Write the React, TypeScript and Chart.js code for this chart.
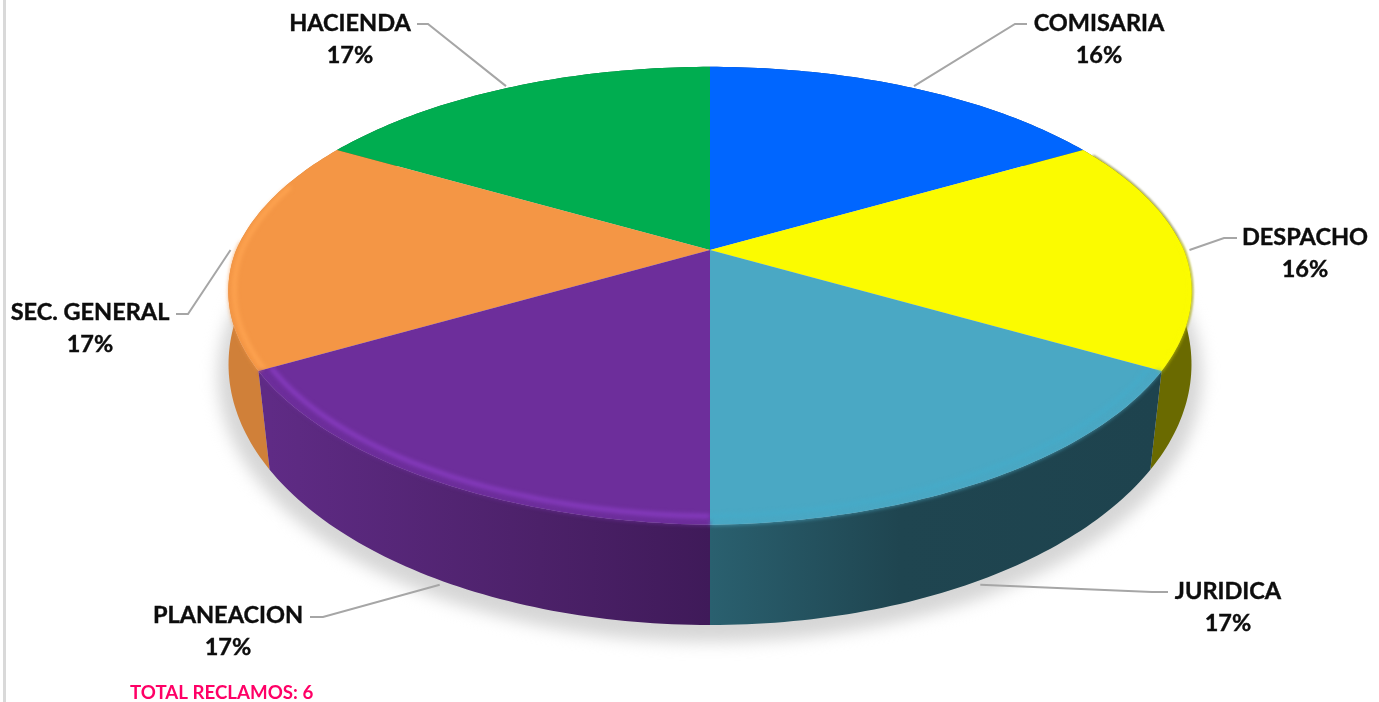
import React, { useEffect, useRef } from "react";
import { Chart, registerables } from "chart.js";

Chart.register(...registerables);

// Complaints per office; the total printed under the chart is their sum.
const offices = ["COMISARIA", "DESPACHO", "JURIDICA", "PLANEACION", "SEC. GENERAL", "HACIENDA"];
const complaints = [1, 1, 1, 1, 1, 1];
const shareLabels = ["16%", "16%", "17%", "17%", "17%", "17%"];
const faceColors = ["#0066ff", "#fbfb00", "#4aa8c4", "#6d2e9b", "#f49645", "#00ad50"];
const totalLabel = "TOTAL RECLAMOS: 6";

const WIDTH = 1379;
const HEIGHT = 702;
const FONT = "Lato, sans-serif";

type Plane = { cx: number; y0: number; rx: number; ry: number; p: number; bevel: number };
// Perspective projection of the disc's upper and lower faces.
const TOP: Plane = { cx: 710, y0: 250, rx: 473.8, ry: 219.8, p: 0.2, bevel: 0.02 };
const BOTTOM: Plane = { cx: 710, y0: 333, rx: 478, ry: 257, p: 0.12, bevel: 0 };

function project(pl: Plane, theta: number, r = 1): [number, number] {
  // The rounded front shoulder pulls the visible edge in a little towards the sides.
  const front = Math.max(0, -Math.cos(theta)) * Math.abs(Math.sin(theta));
  const rr = r * (1 - pl.bevel * front);
  const x = rr * Math.sin(theta);
  const y = rr * Math.cos(theta);
  const w = 1 + pl.p * y;
  return [pl.cx + (pl.rx * x) / w, pl.y0 - (pl.ry * y) / w];
}

function arcPoints(pl: Plane, a: number, b: number, r = 1): [number, number][] {
  const n = Math.max(2, Math.ceil(Math.abs(b - a) / (Math.PI / 180)));
  const pts: [number, number][] = [];
  for (let i = 0; i <= n; i++) pts.push(project(pl, a + ((b - a) * i) / n, r));
  return pts;
}

function trace(ctx: CanvasRenderingContext2D, pts: [number, number][], close: boolean) {
  ctx.beginPath();
  pts.forEach(([x, y], i) => (i ? ctx.lineTo(x, y) : ctx.moveTo(x, y)));
  if (close) ctx.closePath();
}

const rad = (deg: number) => (deg * Math.PI) / 180;

// Side-wall shading per slice, as [x, colour] stops.
const wallStops: [number, string][][] = [
  [[0, "#00409f"]],
  [[0, "#6a6a00"]],
  [[710, "#2a606f"], [900, "#1f4550"], [1160, "#1e434e"]],
  [[270, "#5f2b85"], [540, "#4c2169"], [710, "#3f1a59"]],
  [[0, "#d08039"]],
  [[0, "#006c32"]],
];
// Blurred front edge over the wall: slice index and angular limits in degrees.
const softEdges: [number, number, number][] = [
  [1, 88, 120],
  [2, 120, 180],
  [3, 180, 240],
  [4, 240, 272],
];
// Soft rim highlight on the front slices: colour, angular limits in degrees, radius.
const rimLight: ([string, number, number, number] | null)[] = [
  null,
  null,
  ["#45abc9", 120, 180, 0.975],
  ["#8a3dc4", 180, 240, 0.975],
  ["#ffa552", 240, 288, 0.988],
  null,
];
const drawOrder = [0, 5, 1, 4, 2, 3];

// Callout placement: label centre, first line y, elbow and the line's end by the text.
const callouts: { x: number; y: number; knee: [number, number]; end: [number, number]; lower: boolean }[] = [
  { x: 1099, y: 23, knee: [1015, 24], end: [1027, 24], lower: false },
  { x: 1305, y: 237, knee: [1224, 238], end: [1237, 238], lower: false },
  { x: 1228, y: 591, knee: [1152, 592], end: [1168, 592], lower: true },
  { x: 228, y: 615, knee: [323, 617], end: [310, 617], lower: true },
  { x: 90, y: 312, knee: [188, 314], end: [176, 314], lower: false },
  { x: 350, y: 23, knee: [428, 24], end: [417, 24], lower: false },
];

const perspectivePie = {
  id: "perspectivePie",
  beforeDraw(chart: any) {
    const ctx: CanvasRenderingContext2D = chart.ctx;
    ctx.save();
    ctx.fillStyle = "#ffffff";
    ctx.fillRect(0, 0, WIDTH, HEIGHT);
    ctx.fillStyle = "#d9d9d9";
    ctx.fillRect(3, 0, 3, HEIGHT);
    ctx.restore();
  },
  beforeDatasetsDraw(chart: any) {
    const ctx: CanvasRenderingContext2D = chart.ctx;
    const arcs = chart.getDatasetMeta(0).data.map((el: any) => {
      const { startAngle, endAngle } = el.getProps(["startAngle", "endAngle"], true);
      return { a: startAngle + Math.PI / 2, b: endAngle + Math.PI / 2 };
    });
    const colors: string[] = chart.data.datasets[0].backgroundColor;

    // Ground shadow
    ctx.save();
    ctx.filter = "blur(8px)";
    ctx.fillStyle = "#d6d6d6";
    ctx.beginPath();
    ctx.ellipse(710, 376, 492, 266, 0, 0, Math.PI * 2);
    ctx.fill();
    ctx.restore();

    // Side walls, far slices first
    drawOrder.forEach((i) => {
      const { a, b } = arcs[i];
      const stops = wallStops[i];
      const xs = stops.map((s) => s[0]);
      const lo = Math.min(...xs);
      const hi = Math.max(...xs);
      ctx.save();
      if (stops.length > 1) {
        const g = ctx.createLinearGradient(lo, 0, hi, 0);
        stops.forEach(([x, c]) => g.addColorStop((x - lo) / (hi - lo), c));
        ctx.fillStyle = g;
      } else {
        ctx.fillStyle = stops[0][1];
      }
      trace(ctx, [...arcPoints(TOP, a, b), ...arcPoints(BOTTOM, b, a)], true);
      ctx.fill();
      ctx.restore();
    });

    // Thin dark shoulder along the right-hand edge of the yellow slice
    ctx.save();
    ctx.filter = "blur(0.8px)";
    ctx.strokeStyle = "rgba(106,106,0,0.75)";
    ctx.lineWidth = 2;
    trace(ctx, arcPoints(TOP, rad(62), rad(120), 1.001), false);
    ctx.stroke();
    ctx.restore();

    // Upper face
    drawOrder.forEach((i) => {
      const { a, b } = arcs[i];
      ctx.save();
      ctx.fillStyle = colors[i];
      trace(ctx, [[TOP.cx, TOP.y0], ...arcPoints(TOP, a, b)], true);
      ctx.fill();
      ctx.restore();
    });

    // Rounded rim: a blurred edge over the wall plus a light band just inside it
    softEdges.forEach(([i, from, to]) => {
      ctx.save();
      ctx.filter = "blur(2.2px)";
      ctx.strokeStyle = colors[i];
      ctx.lineWidth = 3;
      trace(ctx, arcPoints(TOP, rad(from), rad(to), 0.996), false);
      ctx.stroke();
      ctx.restore();

      const band = rimLight[i];
      if (band) {
        const { a, b } = arcs[i];
        ctx.save();
        trace(ctx, [[TOP.cx, TOP.y0], ...arcPoints(TOP, a, b, 1.01)], true);
        ctx.clip();
        ctx.filter = "blur(2px)";
        ctx.strokeStyle = band[0];
        ctx.lineWidth = 4;
        trace(ctx, arcPoints(TOP, rad(band[1]), rad(band[2]), band[3]), false);
        ctx.stroke();
        ctx.restore();
      }
    });

    // Leader lines from each slice's outer edge to its label
    arcs.forEach(({ a, b }: { a: number; b: number }, i: number) => {
      const c = callouts[i];
      const mid = (a + b) / 2;
      const start = project(c.lower ? BOTTOM : TOP, mid, 1.012);
      ctx.save();
      ctx.strokeStyle = "#a6a6a6";
      ctx.lineWidth = 2;
      trace(ctx, [start, c.knee, c.end], false);
      ctx.stroke();
      ctx.restore();
    });
    return false;
  },
  afterDraw(chart: any) {
    const ctx: CanvasRenderingContext2D = chart.ctx;
    ctx.save();
    ctx.textAlign = "center";
    ctx.textBaseline = "middle";
    ctx.fillStyle = "#0d0d0d";
    ctx.strokeStyle = "#0d0d0d";
    ctx.lineWidth = 0.4;
    ctx.font = `bold 23.5px ${FONT}`;
    chart.data.labels.forEach((name: string, i: number) => {
      const c = callouts[i];
      ctx.fillText(name, c.x, c.y);
      ctx.strokeText(name, c.x, c.y);
      ctx.fillText(shareLabels[i], c.x, c.y + 32);
      ctx.strokeText(shareLabels[i], c.x, c.y + 32);
    });
    ctx.textAlign = "left";
    ctx.fillStyle = "#ff0066";
    ctx.font = `bold 18.7px ${FONT}`;
    ctx.fillText(totalLabel, 130, 693);
    ctx.restore();
  },
};

export default function App() {
  const ref = useRef<HTMLCanvasElement | null>(null);
  useEffect(() => {
    if (!ref.current) return;
    const chart = new Chart(ref.current, {
      type: "pie",
      data: {
        labels: offices,
        datasets: [{ data: complaints, backgroundColor: faceColors, borderWidth: 0 }],
      },
      options: {
        animation: false,
        responsive: false,
        plugins: { legend: { display: false }, tooltip: { enabled: false } },
      },
      plugins: [perspectivePie],
    } as any);
    return () => chart.destroy();
  }, []);
  return (
    <div style={{ position: "fixed", left: 0, top: 0, width: WIDTH, height: HEIGHT, overflow: "hidden" }}>
      <canvas ref={ref} width={WIDTH} height={HEIGHT} style={{ display: "block" }} />
    </div>
  );
}
